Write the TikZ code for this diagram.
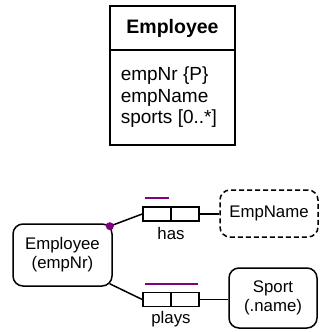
\documentclass[tikz,border=0pt]{standalone}
\usepackage{fontspec}
\setmainfont{Liberation Sans}
\usetikzlibrary{calc}
\definecolor{ormpurple}{RGB}{128,0,128}
\begin{document}
\begin{tikzpicture}[x=1pt,y=-1pt,
  line width=1.5pt,
  ormfont/.style={font=\fontsize{16.8}{19}\selectfont},
  umlfont/.style={font=\fontsize{19}{21.5}\selectfont},
  entity/.style={draw, rounded corners=10pt, align=center, ormfont, inner sep=0pt},
  valuetype/.style={entity, dash pattern=on 5pt off 3pt},
  rolebox/.style={draw, minimum width=28pt, minimum height=14pt, inner sep=0pt},
  uniq/.style={draw=ormpurple, line width=2pt},
  attr/.style={anchor=base west, umlfont, inner sep=0pt}]
\useasboundingbox (0,0) rectangle (320,332);

% UML class box
\node[draw, minimum width=125pt, minimum height=139pt, inner sep=0pt] (cls) at (172.5,75.5) {};
\coordinate (divy) at (0,50);
\draw (cls.west |- divy) -- (cls.east |- divy);
\node[font=\bfseries\fontsize{19.5}{22}\selectfont] (clsName) at (172.5,28) {Employee};
\node[attr] (a1) at (120,80) {empNr \{P\}};
\node[attr] (a2) at (120,102) {empName};
\node[attr] (a3) at (120,123.5) {sports [0..*]};

% ORM schema
\node[entity, minimum width=99pt, minimum height=62pt] (emp) at (62.5,255) {Employee\\(empNr)};
\node[valuetype, minimum width=98pt, minimum height=47pt] (empname) at (269,213.5) {EmpName};
\node[entity, minimum width=88pt, minimum height=60pt] (sport) at (273,298) {Sport\\(.name)};

% fact type "has"
\node[rolebox] (hasL) at (157,214) {};
\node[rolebox] (hasR) at (185,214) {};
\node[ormfont] (hasLbl) at (171,233) {has};
\draw[uniq] ($(hasL.north west)+(3pt,8pt)$) -- ($(hasL.north east)+(-3pt,8pt)$);

% fact type "plays"
\node[rolebox] (playsL) at (157,299.5) {};
\node[rolebox] (playsR) at (185,299.5) {};
\node[ormfont] (playsLbl) at (171,319) {plays};
\draw[uniq] ($(playsL.north west)+(3pt,8pt)$) -- ($(playsR.north east)+(-2pt,8pt)$);

% connectors
\coordinate (empTop) at ($(emp.north east)+(-2.93pt,-2.93pt)$);
\coordinate (empBot) at ($(emp.south east)+(-2.93pt,2.93pt)$);
\draw (empTop) -- (hasL.west);
\draw (hasR.east) -- (hasR.east -| empname.west);
\draw (empBot) -- (playsL.west);
\draw (playsR.east) -- (playsR.east -| sport.west);
\fill[ormpurple] (empTop) circle (4pt);
\end{tikzpicture}
\end{document}
